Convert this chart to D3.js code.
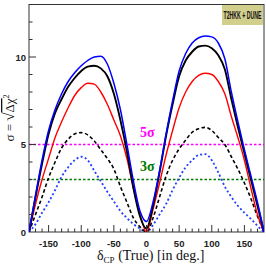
<!DOCTYPE html>
<html>
<head>
<meta charset="utf-8">
<script src="https://cdn.jsdelivr.net/npm/d3@7"></script>
<style>
  body { margin: 0; background: #fff; }
  svg { display: block; }
</style>
</head>
<body>
<script>
var width = 266, height = 273;

// delta_CP (true) grid, degrees
var deltaCP = d3.range(-180, 181, 10);

// sigma = sqrt(dchi2)
var blueSolid = [0, 2.1, 4.1, 5.8, 7.0, 7.9, 8.6, 9.1, 9.5, 9.8, 10.0, 10.05, 9.6, 8.5, 7.0, 5.0, 2.9, 1.2, 0.6,
                 1.7, 3.5, 5.6, 7.5, 9.2, 10.2, 10.8, 11.1, 11.2, 11.15, 10.8, 9.9, 8.0, 6.3, 4.7, 3.2, 1.7, 0];
var blackSolid = [0, 2.0, 3.9, 5.6, 6.8, 7.6, 8.3, 8.8, 9.2, 9.45, 9.5, 9.35, 8.9, 7.9, 6.4, 4.6, 2.5, 0.9, 0.2,
                  1.5, 3.4, 5.5, 7.3, 8.9, 9.8, 10.3, 10.6, 10.65, 10.5, 10.1, 9.3, 7.6, 6.0, 4.5, 3.0, 1.5, 0];
var redSolid = [0, 1.6, 3.0, 4.2, 5.4, 6.3, 7.1, 7.8, 8.25, 8.5, 8.45, 8.0, 7.3, 6.4, 5.5, 4.2, 2.5, 1.0, 0,
                1.3, 2.8, 4.4, 5.8, 7.1, 8.0, 8.6, 8.95, 9.07, 9.0, 8.6, 7.9, 6.6, 5.4, 4.1, 2.5, 1.0, 0];
var blackDashed = [0, 1.0, 2.0, 3.1, 4.0, 4.8, 5.3, 5.6, 5.68, 5.55, 5.2, 4.7, 4.2, 3.6, 2.6, 1.7, 0.8, 0.3, 0,
                   0.8, 2.0, 3.2, 4.1, 4.75, 5.25, 5.7, 5.9, 5.98, 5.8, 5.4, 5.0, 4.3, 3.6, 2.8, 1.9, 0.9, 0];
var blueDotted = [0, 0.45, 1.1, 1.7, 2.4, 3.16, 3.7, 4.1, 4.3, 4.1, 3.5, 2.9, 2.3, 1.75, 1.2, 0.8, 0.45, 0.2, 0,
                  0.4, 1.0, 1.6, 2.4, 3.1, 3.7, 4.1, 4.4, 4.45, 4.1, 3.4, 2.6, 2.0, 1.5, 1.1, 0.75, 0.35, 0];

var xTicks = [-150, -100, -50, 0, 50, 100, 150];
var yTicks = [0, 5, 10];
var sigmaLines = [5, 3];
var sigmaLabels = ["5σ", "3σ"];
var tagText = "T2HKK + DUNE";

var x = d3.scaleLinear().domain([-180, 180]).range([29, 264]);
var y = d3.scaleLinear().domain([0, 13]).range([232, 4.5]);

var svg = d3.select("body")
  .append("svg")
  .attr("width", width)
  .attr("height", height);

svg.append("clipPath").attr("id", "plot")
  .append("rect")
  .attr("x", x(-180)).attr("y", y(13))
  .attr("width", x(180) - x(-180)).attr("height", y(0) - y(13));

// frame
svg.append("rect")
  .attr("x", x(-180)).attr("y", y(13))
  .attr("width", x(180) - x(-180)).attr("height", y(0) - y(13))
  .attr("fill", "none").attr("stroke", "#333").attr("stroke-width", 1);

var line = d3.line()
  .x((d, i) => x(deltaCP[i]))
  .y(d => y(d))
  .curve(d3.curveMonotoneX);

var g = svg.append("g").attr("clip-path", "url(#plot)");

// sigma reference lines
var sigColors = ["#ff00ff", "#007a00"];
sigmaLines.forEach((s, i) => {
  g.append("line")
    .attr("x1", x(-180)).attr("x2", x(180))
    .attr("y1", y(s)).attr("y2", y(s))
    .attr("stroke", sigColors[i])
    .attr("stroke-width", 1.6)
    .attr("stroke-dasharray", "2.5,2");
});

var series = [
  {v: blueDotted, c: "#1f3fff", w: 1.8, dash: "2,2.4"},
  {v: blackDashed, c: "#000", w: 1.6, dash: "3.5,2.5"},
  {v: redSolid, c: "#ff0000", w: 1.4},
  {v: blackSolid, c: "#000", w: 1.9},
  {v: blueSolid, c: "#0000ff", w: 1.5}
];

series.forEach(s => {
  g.append("path")
    .attr("d", line(s.v))
    .attr("fill", "none")
    .attr("stroke", s.c)
    .attr("stroke-width", s.w)
    .attr("stroke-dasharray", s.dash || null);
});

// axes with inward ticks
var tickG = svg.append("g").attr("stroke", "#333").attr("stroke-width", 1);
d3.range(-170, 180, 10).forEach(t => {
  var major = xTicks.indexOf(t) >= 0;
  tickG.append("line")
    .attr("x1", x(t)).attr("x2", x(t))
    .attr("y1", y(0)).attr("y2", y(0) - (major ? 7 : 3.5));
});
d3.range(1, 13, 1).forEach(t => {
  var major = yTicks.indexOf(t) >= 0;
  tickG.append("line")
    .attr("x1", x(-180)).attr("x2", x(-180) + (major ? 7 : 3.5))
    .attr("y1", y(t)).attr("y2", y(t));
});

var tickFont = "'Liberation Sans', Arial, sans-serif";
svg.append("g").selectAll("text")
  .data(xTicks).enter().append("text")
  .attr("x", d => x(d))
  .attr("y", 247)
  .attr("text-anchor", "middle")
  .attr("font-family", tickFont)
  .attr("font-weight", "bold")
  .attr("font-size", 9.5)
  .attr("fill", "#222")
  .text(d => d);

svg.append("g").selectAll("text")
  .data(yTicks).enter().append("text")
  .attr("x", 26)
  .attr("y", d => y(d) + 3.5)
  .attr("text-anchor", "end")
  .attr("font-family", tickFont)
  .attr("font-weight", "bold")
  .attr("font-size", 9.5)
  .attr("fill", "#222")
  .text(d => d);

// axis titles
var serif = "'Liberation Serif', 'Times New Roman', serif";
var xl = svg.append("text")
  .attr("x", 97).attr("y", 260)
  .attr("font-family", serif)
  .attr("font-size", 14)
  .attr("fill", "#111");
xl.append("tspan").text("δ");
xl.append("tspan").attr("font-size", 9).attr("dy", 3).text("CP");
xl.append("tspan").attr("dy", -3).text(" (True) [in deg.]");

var yl = svg.append("text")
  .attr("transform", "translate(14,118) rotate(-90)")
  .attr("text-anchor", "middle")
  .attr("font-family", serif)
  .attr("font-size", 13)
  .attr("fill", "#111");
yl.append("tspan").text("σ = ");
yl.append("tspan").attr("font-size", 15).text("√");
yl.append("tspan").style("text-decoration", "overline").text("Δχ");
yl.append("tspan").attr("font-size", 8).attr("dy", -5).text("2");

// sigma labels
sigmaLabels.forEach((t, i) => {
  svg.append("text")
    .attr("x", 140).attr("y", [137, 171][i])
    .attr("font-family", serif)
    .attr("font-size", 14)
    .attr("font-weight", "bold")
    .attr("fill", sigColors[i])
    .text(t);
});

// tag box
svg.append("rect")
  .attr("x", 222).attr("y", 5)
  .attr("width", 41).attr("height", 20)
  .attr("fill", "#d2ce8c");
svg.append("text")
  .attr("transform", "translate(242.5,18.5) scale(0.52,1)")
  .attr("text-anchor", "middle")
  .attr("font-family", tickFont)
  .attr("font-weight", "bold")
  .attr("font-size", 10)
  .attr("fill", "#111")
  .text(tagText);
</script>
</body>
</html>
